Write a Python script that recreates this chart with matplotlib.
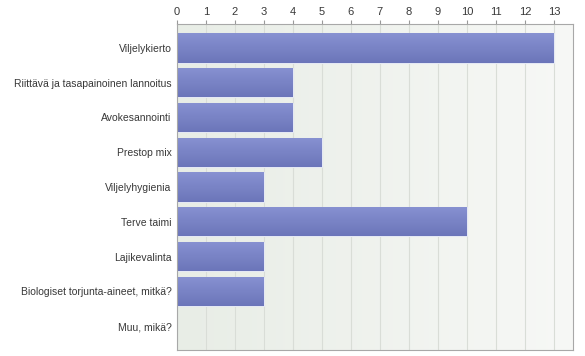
import matplotlib
matplotlib.use("Agg")
import matplotlib.pyplot as plt
import numpy as np
from matplotlib.colors import LinearSegmentedColormap

categories = ["Viljelykierto", "Riittävä ja tasapainoinen lannoitus", "Avokesannointi",
              "Prestop mix", "Viljelyhygienia", "Terve taimi", "Lajikevalinta",
              "Biologiset torjunta-aineet, mitkä?", "Muu, mikä?"]
values = [13, 4, 4, 5, 3, 10, 3, 3, 0]
ticks = list(range(0, 14))

plt.rcParams['font.family'] = ['Liberation Sans', 'DejaVu Sans']

fig = plt.figure(figsize=(5.85, 3.56), dpi=100)
ax = fig.add_axes([177/585, 1-350/356, (573-177)/585, (350-24)/356])

y = np.arange(len(categories))
ax.set_xlim(0, 13.66)
ax.set_ylim(len(categories) - 1 + 0.69, -0.69)

# background gradient
bg = LinearSegmentedColormap.from_list("bg", ["#e8ede6", "#f7f8f6"])
grad = np.linspace(0, 1, 256).reshape(1, -1)
ax.imshow(grad, cmap=bg, extent=[0, 1, 0, 1], transform=ax.transAxes,
          aspect='auto', zorder=0)

for t in ticks:
    ax.axvline(t, color="#d9ddd7", lw=0.8, zorder=1)

bars = ax.barh(y, values, height=0.84, color="#7a84c6", edgecolor="#e4e8f4",
               linewidth=0.8, zorder=2)
barcm = LinearSegmentedColormap.from_list("bar", ["#8892d2", "#6b75b9"])
vgrad = np.linspace(0, 1, 256).reshape(-1, 1)
for b, yy, v in zip(bars, y, values):
    if v <= 0:
        continue
    im = ax.imshow(vgrad, cmap=barcm, extent=[0, v, yy + 0.42, yy - 0.42],
                   aspect='auto', zorder=2.5)
    im.set_clip_path(b)
ax.set_xlim(0, 13.66)
ax.set_ylim(len(categories) - 1 + 0.69, -0.69)

ax.set_yticks(y)
ax.set_yticklabels(categories, fontsize=7.5, color="#383838")
ax.set_xticks(ticks)
ax.set_xticklabels([str(t) for t in ticks], fontsize=8, color="#383838")
ax.xaxis.tick_top()
ax.tick_params(axis='x', length=3, color="#999999", pad=2)
ax.tick_params(axis='y', length=0, pad=4)
for s in ax.spines.values():
    s.set_color("#a8a8a8")
    s.set_linewidth(0.8)

fig.savefig("out.png", dpi=100)
